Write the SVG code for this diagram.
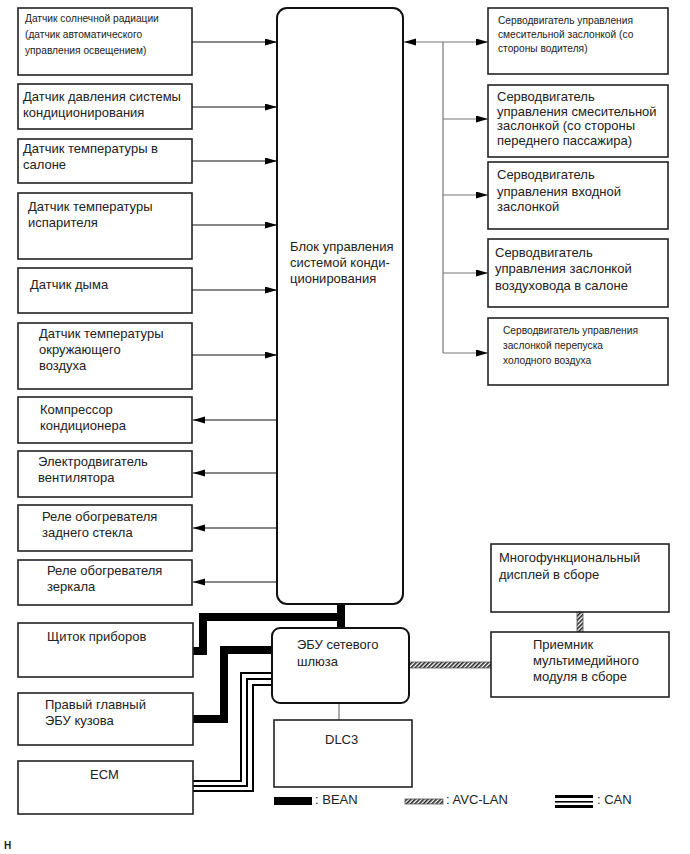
<svg xmlns="http://www.w3.org/2000/svg" width="690" height="854" viewBox="0 0 690 854">
<style>
.box{fill:#fff;stroke:#222;stroke-width:1.6}
.main{fill:#fff;stroke:#111;stroke-width:2}
text{font-family:"Liberation Sans",Arial,sans-serif;font-size:13px;fill:#222}
.s{font-size:10.2px}
.ln{fill:none;stroke:#111;stroke-width:1.2}
.gl{fill:none;stroke:#777;stroke-width:1.2}
.bean{fill:none;stroke:#000;stroke-width:8}
.can{fill:none;stroke:#000;stroke-width:2}
.avc{fill:url(#hatch);stroke:#555;stroke-width:0.8}
</style>
<defs>
<marker id="ar" markerUnits="userSpaceOnUse" markerWidth="13" markerHeight="8" refX="12" refY="3.5" orient="auto-start-reverse">
<path d="M0,0 L12,3.5 L0,7 z" fill="#000"/>
</marker>
<pattern id="hatch" patternUnits="userSpaceOnUse" width="3" height="3" patternTransform="rotate(45)">
<rect width="3" height="3" fill="#fff"/>
<line x1="0.8" y1="0" x2="0.8" y2="3" stroke="#222" stroke-width="1.6"/>
</pattern>
</defs>

<g id="connectors">
<line class="ln" x1="192" y1="42" x2="277" y2="42" marker-end="url(#ar)"/>
<line class="ln" x1="192" y1="107" x2="277" y2="107" marker-end="url(#ar)"/>
<line class="ln" x1="192" y1="161" x2="277" y2="161" marker-end="url(#ar)"/>
<line class="ln" x1="192" y1="225" x2="277" y2="225" marker-end="url(#ar)"/>
<line class="ln" x1="192" y1="290" x2="277" y2="290" marker-end="url(#ar)"/>
<line class="ln" x1="192" y1="355" x2="277" y2="355" marker-end="url(#ar)"/>
<line class="ln" x1="277" y1="420" x2="193" y2="420" marker-end="url(#ar)"/>
<line class="ln" x1="277" y1="473" x2="193" y2="473" marker-end="url(#ar)"/>
<line class="ln" x1="277" y1="528" x2="193" y2="528" marker-end="url(#ar)"/>
<line class="ln" x1="277" y1="582" x2="193" y2="582" marker-end="url(#ar)"/>
<line class="gl" x1="404" y1="42" x2="488" y2="42" marker-start="url(#ar)" marker-end="url(#ar)"/>
<line class="gl" x1="443" y1="42" x2="443" y2="353"/>
<line class="gl" x1="443" y1="119" x2="488" y2="119" marker-end="url(#ar)"/>
<line class="gl" x1="443" y1="195" x2="488" y2="195" marker-end="url(#ar)"/>
<line class="gl" x1="443" y1="273" x2="488" y2="273" marker-end="url(#ar)"/>
<line class="gl" x1="443" y1="353" x2="488" y2="353" marker-end="url(#ar)"/>
<path class="bean" d="M341,603 V629"/>
<path class="bean" d="M192,651 H203 V617 H345"/>
<path class="bean" d="M192,719 H224 V650 H273"/>
<path class="can" d="M192,781 H241 V673 H273"/>
<path class="can" d="M192,786 H247 V679 H273"/>
<path class="can" d="M192,791 H253 V685 H273"/>
<line class="gl" x1="339" y1="703" x2="339" y2="720"/>
<rect class="avc" x="409" y="662" width="82" height="6"/>
<rect class="avc" x="577" y="612" width="6" height="20"/>
</g>

<g id="n1"><rect class="box" x="18" y="8" width="174" height="67"/>
<text class="s" x="25" y="22">Датчик солнечной радиации</text>
<text class="s" x="25" y="38">(датчик автоматического</text>
<text class="s" x="25" y="54">управления освещением)</text></g>
<g id="n2"><rect class="box" x="18" y="84" width="174" height="45"/>
<text x="23" y="101">Датчик давления системы</text>
<text x="23" y="117">кондиционирования</text></g>
<g id="n3"><rect class="box" x="18" y="139" width="174" height="44"/>
<text x="23" y="153">Датчик температуры в</text>
<text x="23" y="169">салоне</text></g>
<g id="n4"><rect class="box" x="18" y="193" width="174" height="66"/>
<text x="28" y="211">Датчик температуры</text>
<text x="28" y="227">испарителя</text></g>
<g id="n5"><rect class="box" x="18" y="268" width="174" height="45"/>
<text x="30" y="289">Датчик дыма</text></g>
<g id="n6"><rect class="box" x="18" y="323" width="174" height="66"/>
<text x="39" y="338">Датчик температуры</text>
<text x="39" y="354">окружающего</text>
<text x="39" y="370">воздуха</text></g>
<g id="n7"><rect class="box" x="18" y="397" width="174" height="46"/>
<text x="40" y="414">Компрессор</text>
<text x="40" y="430">кондиционера</text></g>
<g id="n8"><rect class="box" x="18" y="451" width="174" height="46"/>
<text x="38" y="466">Электродвигатель</text>
<text x="38" y="482">вентилятора</text></g>
<g id="n9"><rect class="box" x="18" y="505" width="174" height="46"/>
<text x="42" y="521">Реле обогревателя</text>
<text x="42" y="537">заднего стекла</text></g>
<g id="n10"><rect class="box" x="18" y="560" width="174" height="45"/>
<text x="47" y="575">Реле обогревателя</text>
<text x="47" y="591">зеркала</text></g>

<g id="main"><rect class="main" x="277" y="8" width="126" height="596" rx="10"/>
<text x="290" y="251">Блок управления</text>
<text x="290" y="267">системой конди-</text>
<text x="290" y="283">ционирования</text></g>

<g id="r1"><rect class="box" x="488" y="8" width="180" height="66"/>
<text class="s" x="498" y="24">Серводвигатель управления</text>
<text class="s" x="498" y="38">смесительной заслонкой (со</text>
<text class="s" x="498" y="52">стороны водителя)</text></g>
<g id="r2"><rect class="box" x="488" y="85" width="180" height="72"/>
<text x="497" y="101">Серводвигатель</text>
<text x="497" y="116">управления смесительной</text>
<text x="497" y="130">заслонкой (со стороны</text>
<text x="497" y="145">переднего пассажира)</text></g>
<g id="r3"><rect class="box" x="488" y="162" width="180" height="67"/>
<text x="497" y="179">Серводвигатель</text>
<text x="497" y="196">управления входной</text>
<text x="497" y="211">заслонкой</text></g>
<g id="r4"><rect class="box" x="488" y="239" width="180" height="68"/>
<text x="495" y="257">Серводвигатель</text>
<text x="495" y="273">управления заслонкой</text>
<text x="495" y="290">воздуховода в салоне</text></g>
<g id="r5"><rect class="box" x="488" y="318" width="180" height="67"/>
<text class="s" x="503" y="334">Серводвигатель управления</text>
<text class="s" x="503" y="349">заслонкой перепуска</text>
<text class="s" x="503" y="364">холодного воздуха</text></g>

<g id="b1"><rect class="box" x="18" y="623" width="175" height="54"/>
<text x="47" y="641">Щиток приборов</text></g>
<g id="b2"><rect class="box" x="18" y="693" width="175" height="52"/>
<text x="45" y="709">Правый главный</text>
<text x="45" y="725">ЭБУ кузова</text></g>
<g id="b3"><rect class="box" x="18" y="761" width="175" height="53"/>
<text x="90" y="779">ECM</text></g>
<g id="gw"><rect class="main" x="272" y="628" width="137" height="75" rx="8"/>
<text x="297" y="649">ЭБУ сетевого</text>
<text x="297" y="666">шлюза</text></g>
<g id="dlc"><rect class="box" x="274" y="720" width="138" height="67"/>
<text x="325" y="744">DLC3</text></g>
<g id="disp"><rect class="box" x="491" y="544" width="178" height="68"/>
<text x="499" y="562">Многофункциональный</text>
<text x="499" y="579">дисплей в сборе</text></g>
<g id="recv"><rect class="box" x="491" y="632" width="178" height="65"/>
<text x="533" y="649">Приемник</text>
<text x="533" y="665">мультимедийного</text>
<text x="533" y="681">модуля в сборе</text></g>

<g id="legend">
<rect x="274" y="797" width="38" height="8" fill="#000"/>
<text x="315" y="804">: BEAN</text>
<rect class="avc" x="405" y="799" width="38" height="5"/>
<text x="446" y="804">: AVC-LAN</text>
<rect x="555" y="795" width="38" height="3" fill="#000"/>
<rect x="555" y="801" width="38" height="1.6" fill="#000"/>
<rect x="555" y="805" width="38" height="3" fill="#000"/>
<text x="597" y="804">: CAN</text>
</g>
<text x="4" y="849" style="font-size:10px;font-weight:bold">H</text>
</svg>
